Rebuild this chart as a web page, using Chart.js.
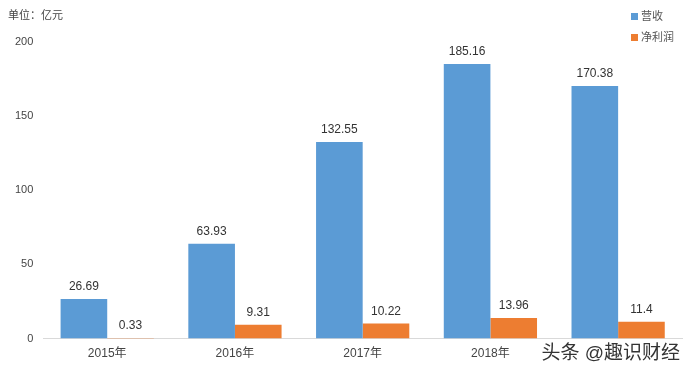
<!DOCTYPE html>
<html>
<head>
<meta charset="utf-8">
<script src="https://cdn.jsdelivr.net/npm/chart.js@4"></script>
<style>
  html, body { margin: 0; padding: 0; background: #fff; }
  #wrap { position: relative; width: 690px; height: 372px; font-family: "Liberation Sans", "Noto Sans CJK SC", sans-serif; }
  #unit { position: absolute; left: 8px; top: 6px; font-size: 11px; color: #444; }
  #legend { position: absolute; left: 631px; top: 9px; font-size: 11px; color: #555; }
  #legend div { height: 21px; line-height: 14px; }
  #legend span { display: inline-block; width: 7px; height: 7px; margin-right: 3px; vertical-align: 0px; }
</style>
</head>
<body>
<div id="wrap">
  <canvas id="revenueChart" width="690" height="372"></canvas>
  <div id="unit">单位：亿元</div>
  <div id="legend">
    <div><span style="background:#5b9bd5"></span>营收</div>
    <div><span style="background:#ed7d31"></span>净利润</div>
  </div>
</div>
<script>
const years = ["2015年", "2016年", "2017年", "2018年", "2019年"];
const revenue = [26.69, 63.93, 132.55, 185.16, 170.38];   // 营收
const netProfit = [0.33, 9.31, 10.22, 13.96, 11.4];      // 净利润
const yTicks = [0, 50, 100, 150, 200];

const fontFamily = '"Liberation Sans", "Noto Sans CJK SC", sans-serif';

// value labels above each bar
const valueLabels = {
    id: "valueLabels",
    afterDatasetsDraw(chart) {
        const ctx = chart.ctx;
        ctx.save();
        ctx.font = "12px " + fontFamily;
        ctx.fillStyle = "#333";
        ctx.textAlign = "center";
        ctx.textBaseline = "bottom";
        chart.data.datasets.forEach((ds, i) => {
            chart.getDatasetMeta(i).data.forEach((bar, j) => {
                ctx.fillText(String(ds.data[j]), bar.x, bar.y - 6);
            });
        });
        ctx.restore();
    }
};

// watermark in the bottom right corner
const watermark = {
    id: "watermark",
    afterDraw(chart) {
        const ctx = chart.ctx;
        ctx.save();
        ctx.font = "19px " + fontFamily;
        ctx.textAlign = "right";
        ctx.textBaseline = "middle";
        ctx.fillStyle = "#fff";
        ctx.fillRect(540, 342, 150, 26);
        ctx.fillStyle = "#333";
        ctx.fillText("头条 @趣识财经", 680, 354);
        ctx.restore();
    }
};

const ctx = document.getElementById("revenueChart").getContext("2d");
new Chart(ctx, {
    type: "bar",
    data: {
        labels: years,
        datasets: [
            { label: "营收", data: revenue, backgroundColor: "#5b9bd5" },
            { label: "净利润", data: netProfit, backgroundColor: "#ed7d31" }
        ]
    },
    options: {
        responsive: false,
        animation: false,
        layout: { padding: { top: 42, right: 8, bottom: 3, left: 5 } },
        datasets: { bar: { categoryPercentage: 0.73, barPercentage: 1.0 } },
        plugins: {
            legend: { display: false },
            tooltip: { enabled: false }
        },
        scales: {
            x: {
                grid: { display: false, drawTicks: false },
                border: { display: true, color: "#d9d9d9" },
                ticks: { color: "#444", font: { size: 12, family: fontFamily }, padding: 8 }
            },
            y: {
                min: 0,
                max: 200,
                afterBuildTicks: axis => { axis.ticks = yTicks.map(v => ({ value: v })); },
                grid: { display: false, drawTicks: false },
                border: { display: false },
                ticks: { color: "#444", font: { size: 11, family: fontFamily }, padding: 10 }
            }
        }
    },
    plugins: [valueLabels, watermark]
});
</script>
</body>
</html>
